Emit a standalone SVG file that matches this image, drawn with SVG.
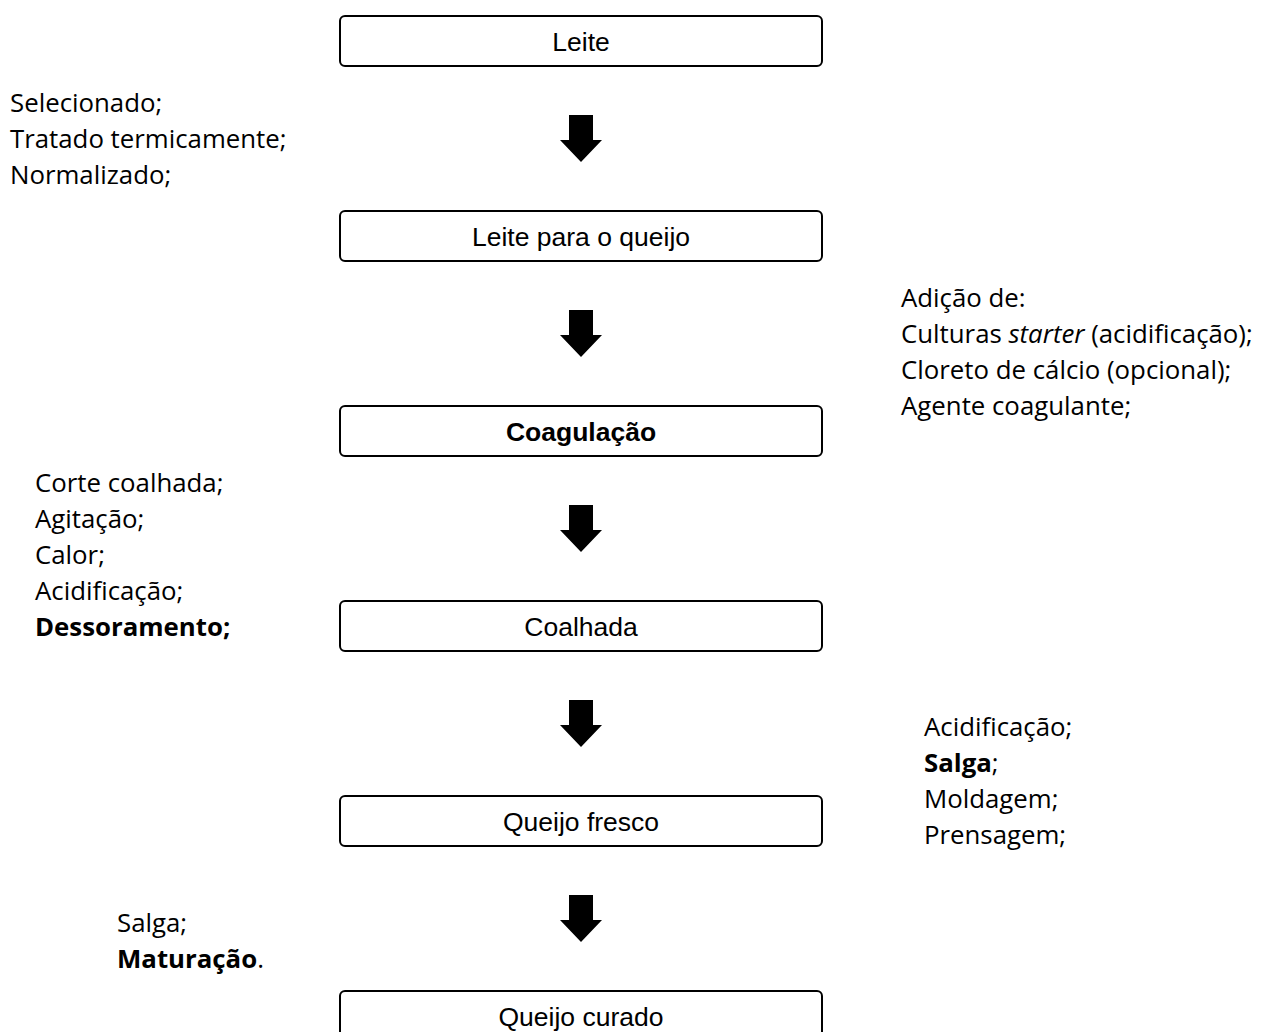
<svg xmlns="http://www.w3.org/2000/svg" width="1261" height="1032" viewBox="0 0 1261 1032">
<style>
.box{fill:#fff;stroke:#000;stroke-width:2}
.bt{font-family:"Liberation Sans",Arial,sans-serif;font-size:26.5px;text-anchor:middle;fill:#000}
.nt{font-family:"Open Sans","Noto Sans",sans-serif;font-size:25.8px;fill:#000}
.b{font-weight:bold}
.arr{fill:#000}
</style>
<defs>
<path id="ar" d="M569 115H593V140H602L581 162L560 140H569Z"/>
</defs>
<rect width="1261" height="1032" fill="#fff"/>
<g id="connectors" class="arr">
<use href="#ar"/>
<use href="#ar" y="195"/>
<use href="#ar" y="390"/>
<use href="#ar" y="585"/>
<use href="#ar" y="780"/>
</g>
<g id="n1"><rect class="box" x="340" y="16" width="482" height="50" rx="5"/><text class="bt" x="581" y="51">Leite</text></g>
<g id="n2"><rect class="box" x="340" y="211" width="482" height="50" rx="5"/><text class="bt" x="581" y="246">Leite para o queijo</text></g>
<g id="n3"><rect class="box" x="340" y="406" width="482" height="50" rx="5"/><text class="bt b" x="581" y="441">Coagulação</text></g>
<g id="n4"><rect class="box" x="340" y="601" width="482" height="50" rx="5"/><text class="bt" x="581" y="636">Coalhada</text></g>
<g id="n5"><rect class="box" x="340" y="796" width="482" height="50" rx="5"/><text class="bt" x="581" y="831">Queijo fresco</text></g>
<g id="n6"><rect class="box" x="340" y="991" width="482" height="50" rx="5"/><text class="bt" x="581" y="1026">Queijo curado</text></g>
<g id="note1" class="nt">
<text x="10" y="112">Selecionado;</text>
<text x="10" y="148">Tratado termicamente;</text>
<text x="10" y="184">Normalizado;</text>
</g>
<g id="note2" class="nt">
<text x="901" y="307">Adição de:</text>
<text x="901" y="343">Culturas <tspan font-style="italic">starter</tspan> (acidificação);</text>
<text x="901" y="379">Cloreto de cálcio (opcional);</text>
<text x="901" y="415">Agente coagulante;</text>
</g>
<g id="note3" class="nt">
<text x="35" y="492">Corte coalhada;</text>
<text x="35" y="528">Agitação;</text>
<text x="35" y="564">Calor;</text>
<text x="35" y="600">Acidificação;</text>
<text x="35" y="636" class="b">Dessoramento;</text>
</g>
<g id="note4" class="nt">
<text x="924" y="736">Acidificação;</text>
<text x="924" y="772"><tspan class="b">Salga</tspan>;</text>
<text x="924" y="808">Moldagem;</text>
<text x="924" y="844">Prensagem;</text>
</g>
<g id="note5" class="nt">
<text x="117" y="932">Salga;</text>
<text x="117" y="968"><tspan class="b">Maturação</tspan>.</text>
</g>
</svg>
